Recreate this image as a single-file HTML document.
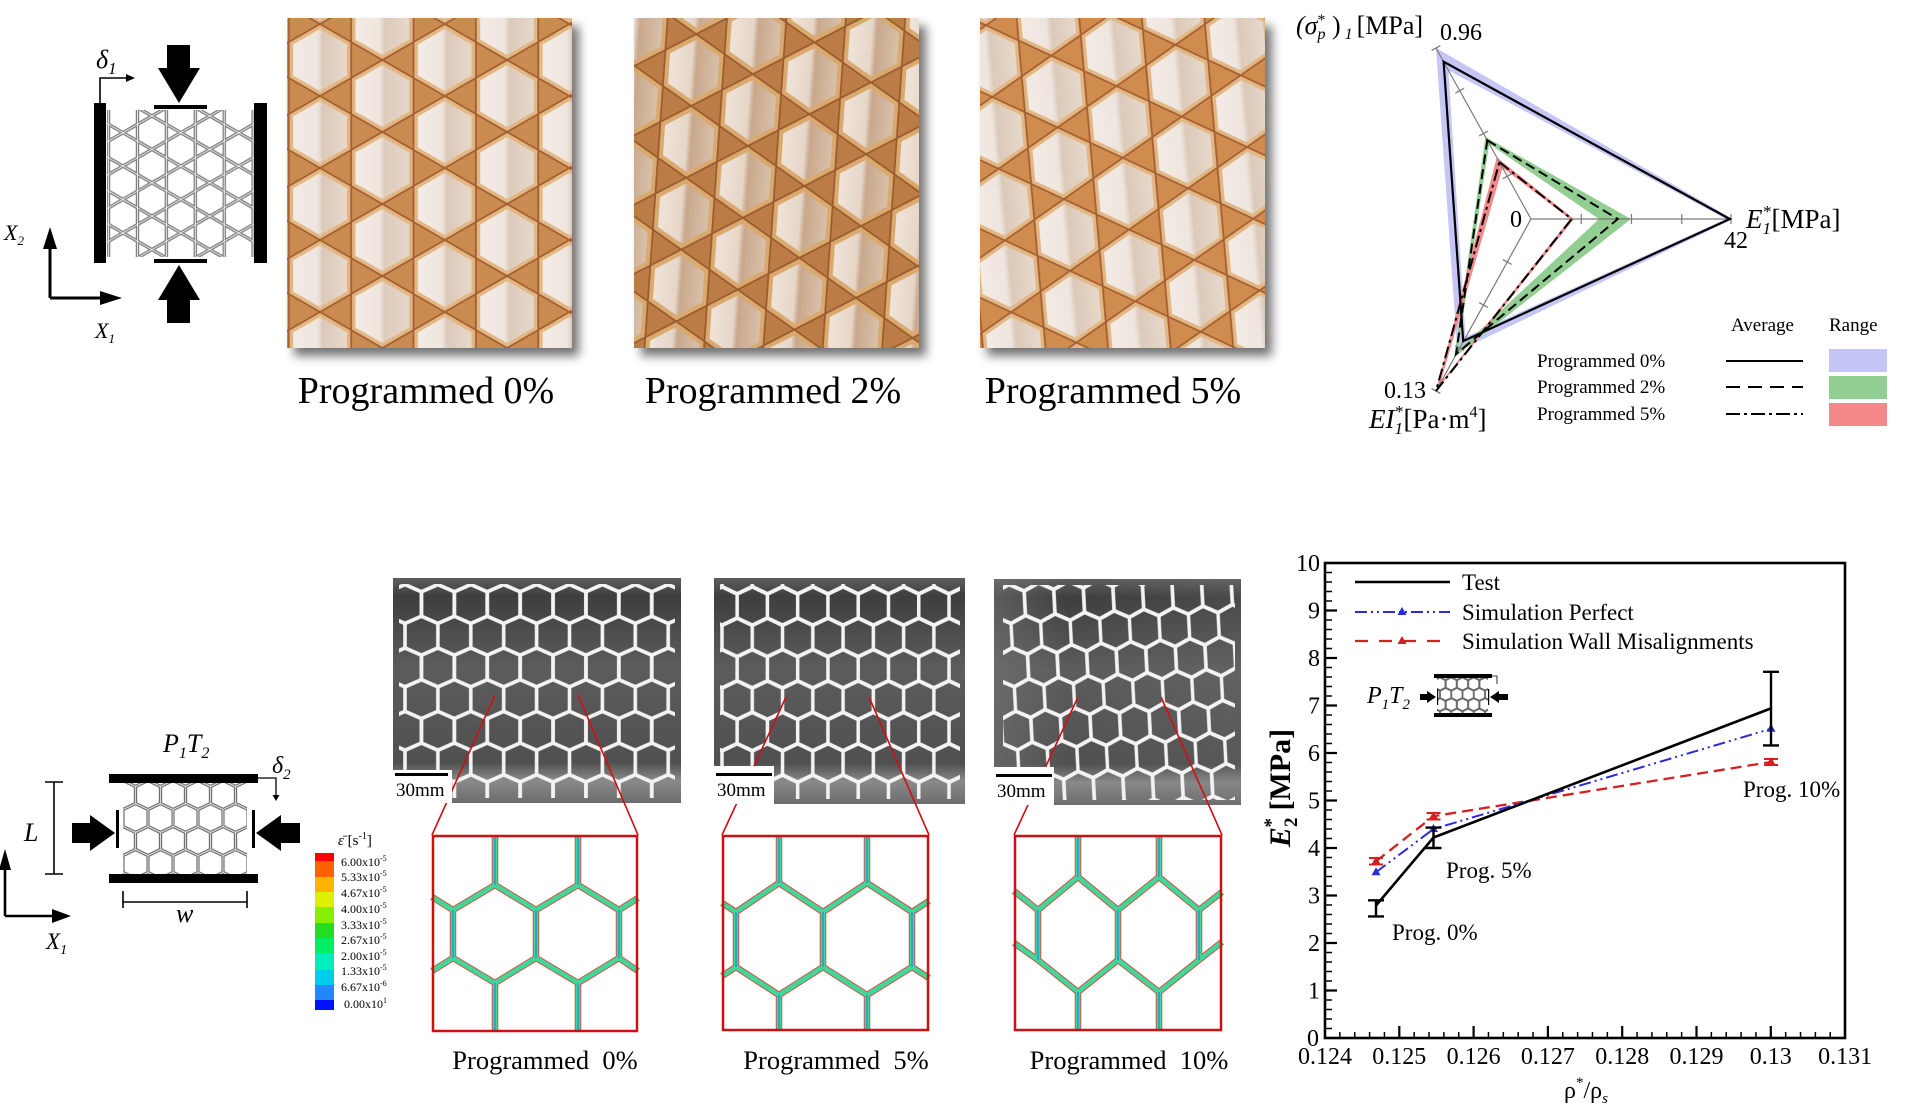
<!DOCTYPE html>
<html>
<head>
<meta charset="utf-8">
<style>
html,body{margin:0;padding:0;background:#fff;}
svg{display:block;}
</style>
</head>
<body>
<svg width="1905" height="1119" viewBox="0 0 1905 1119" xmlns="http://www.w3.org/2000/svg" xmlns:xlink="http://www.w3.org/1999/xlink" font-family="'Liberation Serif', serif">
<defs>
  <linearGradient id="cellg" x1="0" y1="0" x2="1" y2="0">
    <stop offset="0" stop-color="#f3ebe5"/>
    <stop offset="0.45" stop-color="#eee5de"/>
    <stop offset="0.55" stop-color="#dccab9"/>
    <stop offset="1" stop-color="#e6d8cc"/>
  </linearGradient>
  <g id="hk">
    <polygon points="0,-36 31.18,-18 31.18,18 0,36 -31.18,18 -31.18,-18" fill="#e2b784" stroke="#a55f30" stroke-width="1.8"/>
    <polygon points="0,-31 26.85,-15.5 26.85,15.5 0,31 -26.85,15.5 -26.85,-15.5" fill="url(#cellg)"/>
  </g>
  <linearGradient id="cellg2" x1="0" y1="0" x2="1" y2="0">
    <stop offset="0" stop-color="#efe3d8"/>
    <stop offset="0.45" stop-color="#e6d6c8"/>
    <stop offset="0.55" stop-color="#c9a88c"/>
    <stop offset="1" stop-color="#d8c0aa"/>
  </linearGradient>
  <g id="hk2">
    <polygon points="0,-36 31.18,-18 31.18,18 0,36 -31.18,18 -31.18,-18" fill="#d9a96f" stroke="#9a5a2c" stroke-width="1.8"/>
    <polygon points="0,-30 26,-15 26,15 0,30 -26,15 -26,-15" fill="url(#cellg2)"/>
  </g>
  <pattern id="kag1" patternUnits="userSpaceOnUse" width="124.71" height="72" x="320" y="60">
    <rect width="124.71" height="72" fill="#c98b50"/>
    <use xlink:href="#hk" x="0" y="0"/><use xlink:href="#hk" x="124.71" y="0"/>
    <use xlink:href="#hk" x="62.355" y="36"/><use xlink:href="#hk" x="0" y="72"/><use xlink:href="#hk" x="124.71" y="72"/>
  </pattern>
  <pattern id="kag2" patternUnits="userSpaceOnUse" width="124.71" height="72" x="660" y="40" patternTransform="rotate(4 776 180) scale(0.95 1)">
    <rect width="124.71" height="72" fill="#bb7c45"/>
    <use xlink:href="#hk2" x="0" y="0"/><use xlink:href="#hk2" x="124.71" y="0"/>
    <use xlink:href="#hk2" x="62.355" y="36"/><use xlink:href="#hk2" x="0" y="72"/><use xlink:href="#hk2" x="124.71" y="72"/>
  </pattern>
  <pattern id="kag3" patternUnits="userSpaceOnUse" width="124.71" height="72" x="1000" y="50" patternTransform="rotate(-5 1122 180)">
    <rect width="124.71" height="72" fill="#d08c4e"/>
    <use xlink:href="#hk" x="0" y="0"/><use xlink:href="#hk" x="124.71" y="0"/>
    <use xlink:href="#hk" x="62.355" y="36"/><use xlink:href="#hk" x="0" y="72"/><use xlink:href="#hk" x="124.71" y="72"/>
  </pattern>
  <filter id="blur" x="-20%" y="-20%" width="140%" height="140%"><feGaussianBlur stdDeviation="5"/></filter>

  <polygon id="hw" points="0,-19.5 16.45,-12.2 16.45,12.2 0,19.5 -16.45,12.2 -16.45,-12.2"/>
  <pattern id="hcA" patternUnits="userSpaceOnUse" width="32.9" height="63.4" x="405" y="604">
    <g fill="none" stroke="#f3f3f3" stroke-width="3.6">
      <use xlink:href="#hw" x="0" y="0"/><use xlink:href="#hw" x="32.9" y="0"/>
      <use xlink:href="#hw" x="16.45" y="31.7"/><use xlink:href="#hw" x="0" y="63.4"/><use xlink:href="#hw" x="32.9" y="63.4"/>
    </g>
  </pattern>
  <pattern id="hcB" patternUnits="userSpaceOnUse" width="32.9" height="63.4" x="0" y="0" patternTransform="translate(722 606) scale(0.92 0.99)">
    <g fill="none" stroke="#f3f3f3" stroke-width="3.8">
      <use xlink:href="#hw" x="0" y="0"/><use xlink:href="#hw" x="32.9" y="0"/>
      <use xlink:href="#hw" x="16.45" y="31.7"/><use xlink:href="#hw" x="0" y="63.4"/><use xlink:href="#hw" x="32.9" y="63.4"/>
    </g>
  </pattern>
  <pattern id="hcC" patternUnits="userSpaceOnUse" width="32.9" height="63.4" x="0" y="0" patternTransform="translate(1010 604) rotate(-3) scale(0.9 1)">
    <g fill="none" stroke="#f3f3f3" stroke-width="3.8">
      <use xlink:href="#hw" x="0" y="0"/><use xlink:href="#hw" x="32.9" y="0"/>
      <use xlink:href="#hw" x="16.45" y="31.7"/><use xlink:href="#hw" x="0" y="63.4"/><use xlink:href="#hw" x="32.9" y="63.4"/>
    </g>
  </pattern>
  <linearGradient id="grayg" x1="0" y1="0" x2="0" y2="1">
    <stop offset="0" stop-color="#5e5e5e"/>
    <stop offset="0.08" stop-color="#3e3e3e"/>
    <stop offset="0.4" stop-color="#5c5c5c"/>
    <stop offset="0.82" stop-color="#505050"/>
    <stop offset="0.9" stop-color="#8a8a8a"/>
    <stop offset="1" stop-color="#6c6c6c"/>
  </linearGradient>
  <linearGradient id="grayg3" x1="0" y1="0" x2="1" y2="0">
    <stop offset="0" stop-color="#7a7a7a" stop-opacity="0.5"/>
    <stop offset="0.3" stop-color="#7a7a7a" stop-opacity="0"/>
    <stop offset="1" stop-color="#7a7a7a" stop-opacity="0.2"/>
  </linearGradient>

  <polygon id="ksh" points="0,-16.7 14.46,-8.35 14.46,8.35 0,16.7 -14.46,8.35 -14.46,-8.35"/>
  <pattern id="ks" patternUnits="userSpaceOnUse" width="57.85" height="33.4" x="123" y="116">
    <g fill="none" stroke="#7c7c7c" stroke-width="3.4">
      <use xlink:href="#ksh" x="0" y="0"/><use xlink:href="#ksh" x="57.85" y="0"/><use xlink:href="#ksh" x="28.925" y="16.7"/>
      <use xlink:href="#ksh" x="0" y="33.4"/><use xlink:href="#ksh" x="57.85" y="33.4"/>
    </g>
    <g fill="none" stroke="#e8e8e8" stroke-width="1">
      <use xlink:href="#ksh" x="0" y="0"/><use xlink:href="#ksh" x="57.85" y="0"/><use xlink:href="#ksh" x="28.925" y="16.7"/>
      <use xlink:href="#ksh" x="0" y="33.4"/><use xlink:href="#ksh" x="57.85" y="33.4"/>
    </g>
  </pattern>

  <polygon id="hsh" points="0,-14.5 12.5,-8.5 12.5,8.5 0,14.5 -12.5,8.5 -12.5,-8.5"/>
  <pattern id="hs" patternUnits="userSpaceOnUse" width="25" height="46" x="123" y="795">
    <g fill="none" stroke="#707070" stroke-width="3.2">
      <use xlink:href="#hsh" x="0" y="0"/><use xlink:href="#hsh" x="25" y="0"/><use xlink:href="#hsh" x="12.5" y="23"/>
      <use xlink:href="#hsh" x="0" y="46"/><use xlink:href="#hsh" x="25" y="46"/>
    </g>
    <g fill="none" stroke="#d8d8d8" stroke-width="1">
      <use xlink:href="#hsh" x="0" y="0"/><use xlink:href="#hsh" x="25" y="0"/><use xlink:href="#hsh" x="12.5" y="23"/>
      <use xlink:href="#hsh" x="0" y="46"/><use xlink:href="#hsh" x="25" y="46"/>
    </g>
  </pattern>
  <pattern id="hsm" patternUnits="userSpaceOnUse" width="25" height="46" x="0" y="0" patternTransform="translate(1440 684) scale(0.45)">
    <g fill="none" stroke="#666" stroke-width="4">
      <use xlink:href="#hsh" x="0" y="0"/><use xlink:href="#hsh" x="25" y="0"/><use xlink:href="#hsh" x="12.5" y="23"/>
      <use xlink:href="#hsh" x="0" y="46"/><use xlink:href="#hsh" x="25" y="46"/>
    </g>
  </pattern>
</defs>

<!-- ============ TOP-LEFT SCHEMATIC ============ -->
<rect x="107" y="110" width="147" height="147" fill="url(#ks)"/>
<rect x="94" y="103" width="12" height="160" fill="#000"/>
<rect x="254" y="103" width="13" height="160" fill="#000"/>
<rect x="154" y="105" width="53" height="4" fill="#000"/>
<rect x="154" y="259" width="53" height="4" fill="#000"/>
<rect x="167" y="45" width="23" height="24" fill="#000"/>
<polygon points="158,68 200,68 179,103" fill="#000"/>
<polygon points="179,265 158,300 200,300" fill="#000"/>
<rect x="167" y="299" width="23" height="24" fill="#000"/>
<path d="M100 103 V78 H128" fill="none" stroke="#000" stroke-width="1.6"/>
<polygon points="135,78 126,74 126,82" fill="#000"/>
<text x="96" y="68" font-size="26" font-style="italic">δ<tspan font-size="17" dy="6">1</tspan></text>
<path d="M50 298 V240 M50 298 H108" fill="none" stroke="#000" stroke-width="3"/>
<polygon points="50,227 43,249 57,249" fill="#000"/>
<polygon points="122,298 100,291 100,305" fill="#000"/>
<text x="4" y="240" font-size="22" font-style="italic">X<tspan font-size="13" dy="5">2</tspan></text>
<text x="95" y="338" font-size="22" font-style="italic">X<tspan font-size="13" dy="5">1</tspan></text>

<!-- ============ TOP PHOTOS ============ -->
<rect x="294" y="26" width="285" height="330" fill="#444" opacity="0.75" filter="url(#blur)"/>
<rect x="287" y="18" width="285" height="330" fill="url(#kag1)"/>
<rect x="641" y="26" width="285" height="330" fill="#444" opacity="0.75" filter="url(#blur)"/>
<rect x="634" y="18" width="285" height="330" fill="url(#kag2)"/>
<rect x="987" y="26" width="285" height="330" fill="#444" opacity="0.75" filter="url(#blur)"/>
<rect x="980" y="18" width="285" height="330" fill="url(#kag3)"/>
<text x="426" y="403" font-size="38" text-anchor="middle">Programmed 0%</text>
<text x="773" y="403" font-size="38" text-anchor="middle">Programmed 2%</text>
<text x="1113" y="403" font-size="38" text-anchor="middle">Programmed 5%</text>

<!-- ============ RADAR CHART ============ -->
<path fill="#c6c6f6" fill-rule="evenodd" d="M1436 48 L1733 219 L1457.4 351.5 Z M1448.4 70.2 L1726 219 L1465.5 337 Z"/>
<path fill="#92cd92" fill-rule="evenodd" d="M1485.4 136.9 L1631 219 L1454.1 357.5 Z M1489.2 143.8 L1599 219 L1457.9 350.7 Z"/>
<path fill="#f38789" fill-rule="evenodd" d="M1496.8 157.4 L1574 219 L1436 391 Z M1502.5 167.7 L1570 219 L1440.3 383.2 Z"/>
<g stroke="#7a7a7a" stroke-width="1.2" fill="none">
  <path d="M1531 219 H1731 M1531 219 L1436 48 M1531 219 L1436 391"/>
  <path d="M1581.25 214 v10 M1631.5 214 v10 M1681.75 214 v10 M1731 214 v10"/>
  <path d="M1502.88 178.68 l8.74 -4.86 M1479.13 135.93 l8.74 -4.86 M1455.38 93.18 l8.74 -4.86 M1431.63 50.43 l8.74 -4.86"/>
  <path d="M1502.88 259.57 l8.74 4.86 M1479.13 302.57 l8.74 4.86 M1455.38 345.57 l8.74 4.86 M1431.63 388.57 l8.74 4.86"/>
</g>
<polygon points="1443.6,61.7 1729.8,219 1463.2,341.1" fill="none" stroke="#000" stroke-width="2.2"/>
<polygon points="1487.3,140.3 1617.8,219 1456,354.1" fill="none" stroke="#000" stroke-width="2" stroke-dasharray="10,5"/>
<polygon points="1499.4,162.1 1571.6,219 1436,391" fill="none" stroke="#000" stroke-width="2" stroke-dasharray="12,4,3,4"/>
<text x="1296" y="34" font-size="26"><tspan font-style="italic">(σ</tspan><tspan font-size="16" font-style="italic" dy="5">p</tspan><tspan font-size="16" dx="-8" dy="-14">*</tspan><tspan dy="9"> )</tspan><tspan font-size="16" font-style="italic" dy="5"> 1 </tspan><tspan dy="-5">[MPa]</tspan></text>
<text x="1440" y="40" font-size="24">0.96</text>
<text x="1510" y="227" font-size="24">0</text>
<text x="1746" y="228" font-size="27"><tspan font-style="italic">E</tspan><tspan font-size="17" font-style="italic" dy="6">1</tspan><tspan font-size="17" dx="-8" dy="-17">*</tspan><tspan dy="11">[MPa]</tspan></text>
<text x="1724" y="248" font-size="24">42</text>
<text x="1384" y="398" font-size="24">0.13</text>
<text x="1369" y="428" font-size="27"><tspan font-style="italic">EI</tspan><tspan font-size="17" font-style="italic" dy="6">1</tspan><tspan font-size="17" dx="-8" dy="-17">*</tspan><tspan dy="11">[Pa·m</tspan><tspan font-size="16" dy="-11">4</tspan><tspan dy="11">]</tspan></text>
<text x="1731" y="331" font-size="19">Average</text>
<text x="1829" y="331" font-size="19">Range</text>
<text x="1537" y="367" font-size="19">Programmed 0%</text>
<text x="1537" y="393" font-size="19">Programmed 2%</text>
<text x="1537" y="420" font-size="19">Programmed 5%</text>
<path d="M1726 361 H1803" stroke="#000" stroke-width="2"/>
<path d="M1726 387 H1803" stroke="#000" stroke-width="2" stroke-dasharray="14,8"/>
<path d="M1726 414 H1803" stroke="#000" stroke-width="2" stroke-dasharray="14,4,3,4"/>
<rect x="1829" y="349" width="58" height="23" fill="#c6c6f6"/>
<rect x="1829" y="376" width="58" height="23" fill="#92cd92"/>
<rect x="1829" y="403" width="58" height="23" fill="#f38789"/>

<!-- ============ BOTTOM-LEFT SCHEMATIC ============ -->
<text x="163" y="752" font-size="26" font-style="italic">P<tspan font-size="16" dy="6">1</tspan><tspan dy="-6">T</tspan><tspan font-size="16" dy="6">2</tspan></text>
<rect x="123" y="783" width="124" height="91" fill="url(#hs)"/>
<rect x="109" y="774" width="149" height="9" fill="#000"/>
<rect x="109" y="874" width="149" height="9" fill="#000"/>
<rect x="116" y="810" width="3" height="38" fill="#000"/>
<rect x="252" y="810" width="3" height="38" fill="#000"/>
<rect x="72" y="823" width="19" height="20" fill="#000"/>
<polygon points="90,815 115,833 90,851" fill="#000"/>
<polygon points="256,833 281,815 281,851" fill="#000"/>
<rect x="280" y="823" width="20" height="20" fill="#000"/>
<path d="M258 778 H276 V797" fill="none" stroke="#000" stroke-width="1.3"/>
<polygon points="272.5,795 279.5,795 276,801" fill="#000"/>
<text x="272" y="773" font-size="24" font-style="italic">δ<tspan font-size="15" dy="6">2</tspan></text>
<path d="M54 782 V874 M45 782 H63 M45 874 H63" fill="none" stroke="#000" stroke-width="1.6"/>
<text x="24" y="841" font-size="26" font-style="italic">L</text>
<path d="M123 902 H247 M123 891 V908 M247 891 V908" fill="none" stroke="#000" stroke-width="1.6"/>
<text x="176" y="922" font-size="26" font-style="italic">w</text>
<path d="M5 916 V866 M5 916 H56" fill="none" stroke="#000" stroke-width="2.6"/>
<polygon points="5,849 -1,870 11,870" fill="#000"/>
<polygon points="71,916 52,909 52,923" fill="#000"/>
<text x="46" y="949" font-size="23" font-style="italic">X<tspan font-size="14" dy="5">1</tspan></text>

<!-- ============ COLORBAR ============ -->
<text x="338" y="845" font-size="15"><tspan font-style="italic">ε̄</tspan> [s<tspan font-size="10" dy="-6">-1</tspan><tspan dy="6">]</tspan></text>
<rect x="315" y="853" width="19" height="9" fill="#ff0000"/>
<rect x="315" y="861" width="19" height="16" fill="#ff6000"/>
<rect x="315" y="877" width="19" height="15" fill="#ffb400"/>
<rect x="315" y="892" width="19" height="15" fill="#ddf000"/>
<rect x="315" y="907" width="19" height="16" fill="#88ee00"/>
<rect x="315" y="923" width="19" height="15" fill="#22dd22"/>
<rect x="315" y="938" width="19" height="15" fill="#00ee66"/>
<rect x="315" y="953" width="19" height="17" fill="#00eebb"/>
<rect x="315" y="970" width="19" height="15" fill="#00ccee"/>
<rect x="315" y="985" width="19" height="15" fill="#2288ff"/>
<rect x="315" y="1000" width="19" height="10" fill="#0011ff"/>
<g font-size="12">
<text x="341" y="866">6.00x10<tspan font-size="8" dy="-5">-5</tspan></text>
<text x="341" y="881">5.33x10<tspan font-size="8" dy="-5">-5</tspan></text>
<text x="341" y="897">4.67x10<tspan font-size="8" dy="-5">-5</tspan></text>
<text x="341" y="913">4.00x10<tspan font-size="8" dy="-5">-5</tspan></text>
<text x="341" y="929">3.33x10<tspan font-size="8" dy="-5">-5</tspan></text>
<text x="341" y="944">2.67x10<tspan font-size="8" dy="-5">-5</tspan></text>
<text x="341" y="960">2.00x10<tspan font-size="8" dy="-5">-5</tspan></text>
<text x="341" y="975">1.33x10<tspan font-size="8" dy="-5">-5</tspan></text>
<text x="341" y="991">6.67x10<tspan font-size="8" dy="-5">-6</tspan></text>
<text x="344" y="1008">0.00x10<tspan font-size="8" dy="-5">1</tspan></text>
</g>

<!-- ============ GRAY PHOTOS ============ -->
<rect x="393" y="578" width="288" height="225" fill="url(#grayg)"/>
<rect x="399" y="584" width="276" height="214" fill="url(#hcA)"/>
<rect x="714" y="578" width="251" height="226" fill="url(#grayg)"/>
<rect x="720" y="584" width="240" height="215" fill="url(#hcB)"/>
<rect x="994" y="579" width="247" height="226" fill="url(#grayg)"/>
<rect x="994" y="579" width="247" height="226" fill="url(#grayg3)"/>
<rect x="1003" y="585" width="232" height="215" fill="url(#hcC)"/>

<!-- red connecting lines -->
<g stroke="#d01010" stroke-width="1.6">
  <path d="M432 835 L495 695 M638 835 L578 695"/>
  <path d="M722 835 L786 697 M929 835 L869 697"/>
  <path d="M1014 835 L1078 697 M1222 835 L1161 697"/>
</g>

<!-- 30mm boxes -->
<rect x="393" y="770" width="59" height="33" fill="#fff"/>
<rect x="395" y="773" width="53" height="3" fill="#000"/>
<text x="396" y="796" font-size="19">30mm</text>
<rect x="714" y="766" width="60" height="38" fill="#fff"/>
<rect x="716" y="773" width="56" height="3" fill="#000"/>
<text x="717" y="796" font-size="19">30mm</text>
<rect x="994" y="767" width="60" height="38" fill="#fff"/>
<rect x="996" y="774" width="56" height="3" fill="#000"/>
<text x="997" y="797" font-size="19">30mm</text>

<!-- ============ FE BOXES ============ -->
<g transform="translate(432 835)">
  <rect x="0" y="0" width="206" height="197" fill="#fff"/>
  <g fill="none" stroke-linejoin="round">
    <g stroke="#d42a1a" stroke-width="6.5" opacity="0.85">
      <path d="M63 0V50 M146 0V50 M0 62L21 75L63 50L104 75L146 50L187 75L206 63 M21 75V123 M104 75V123 M187 75V123 M0 136L21 123L63 148L104 123L146 148L187 123L206 136 M63 148V197 M146 148V197"/>
    </g>
    <g stroke="#3fd89a" stroke-width="4.6">
      <path d="M63 0V50 M146 0V50 M0 62L21 75L63 50L104 75L146 50L187 75L206 63 M21 75V123 M104 75V123 M187 75V123 M0 136L21 123L63 148L104 123L146 148L187 123L206 136 M63 148V197 M146 148V197"/>
    </g>
    <g stroke="#1f8ce8" stroke-width="1.6" opacity="0.8">
      <path d="M63 0V50 M146 0V50 M21 75V123 M104 75V123 M187 75V123 M63 148V197 M146 148V197"/>
    </g>
  </g>
  <rect x="1" y="1" width="204" height="195" fill="none" stroke="#cc1111" stroke-width="2.5"/>
</g>
<g transform="translate(722 835)">
  <rect x="0" y="0" width="207" height="196" fill="#fff"/>
  <g fill="none" stroke-linejoin="round">
    <g stroke="#d42a1a" stroke-width="6.5" opacity="0.85">
      <path d="M57 0V48 M145 0V48 M0 68L14 77L57 48L101 77L145 48L190 77L207 66 M14 77V132 M101 77V132 M190 77V132 M0 141L14 132L57 160L101 132L145 160L190 132L207 143 M57 160V196 M145 160V196"/>
    </g>
    <g stroke="#3fd89a" stroke-width="4.6">
      <path d="M57 0V48 M145 0V48 M0 68L14 77L57 48L101 77L145 48L190 77L207 66 M14 77V132 M101 77V132 M190 77V132 M0 141L14 132L57 160L101 132L145 160L190 132L207 143 M57 160V196 M145 160V196"/>
    </g>
    <g stroke="#1f8ce8" stroke-width="1.6" opacity="0.8">
      <path d="M57 0V48 M145 0V48 M14 77V132 M101 77V132 M190 77V132 M57 160V196 M145 160V196"/>
    </g>
  </g>
  <rect x="1" y="1" width="205" height="194" fill="none" stroke="#cc1111" stroke-width="2.5"/>
</g>
<g transform="translate(1014 835)">
  <rect x="0" y="0" width="208" height="196" fill="#fff"/>
  <g fill="none" stroke-linejoin="round">
    <g stroke="#d42a1a" stroke-width="6.5" opacity="0.85">
      <path d="M64 0V42 M145 0V42 M0 56L24 75L64 42L104 75L145 42L185 75L208 57 M24 75V125 M104 75V125 M185 75V125 M0 108L24 125L64 157L104 125L145 157L185 125L208 107 M64 157V196 M145 157V196"/>
    </g>
    <g stroke="#3fd89a" stroke-width="4.6">
      <path d="M64 0V42 M145 0V42 M0 56L24 75L64 42L104 75L145 42L185 75L208 57 M24 75V125 M104 75V125 M185 75V125 M0 108L24 125L64 157L104 125L145 157L185 125L208 107 M64 157V196 M145 157V196"/>
    </g>
    <g stroke="#1f8ce8" stroke-width="1.6" opacity="0.8">
      <path d="M64 0V42 M145 0V42 M24 75V125 M104 75V125 M185 75V125 M64 157V196 M145 157V196"/>
    </g>
  </g>
  <rect x="1" y="1" width="206" height="194" fill="none" stroke="#cc1111" stroke-width="2.5"/>
</g>
<text x="545" y="1069" font-size="26.5" text-anchor="middle" xml:space="preserve">Programmed  0%</text>
<text x="836" y="1069" font-size="26.5" text-anchor="middle" xml:space="preserve">Programmed  5%</text>
<text x="1129" y="1069" font-size="26.5" text-anchor="middle" xml:space="preserve">Programmed  10%</text>

<!-- ============ LINE CHART ============ -->
<g stroke="#000" stroke-width="1.5" fill="none">
  <path d="M1339.86 1038v-6M1354.72 1038v-6M1369.58 1038v-6M1384.44 1038v-6M1414.16 1038v-6M1429.02 1038v-6M1443.88 1038v-6M1458.74 1038v-6M1488.46 1038v-6M1503.32 1038v-6M1518.18 1038v-6M1533.04 1038v-6M1562.76 1038v-6M1577.62 1038v-6M1592.48 1038v-6M1607.34 1038v-6M1637.06 1038v-6M1651.92 1038v-6M1666.78 1038v-6M1681.64 1038v-6M1711.36 1038v-6M1726.22 1038v-6M1741.08 1038v-6M1755.94 1038v-6M1785.66 1038v-6M1800.52 1038v-6M1815.38 1038v-6M1830.24 1038v-6"/>
  <path stroke-width="2.2" d="M1399.3 1038v-12M1473.6 1038v-12M1547.9 1038v-12M1622.2 1038v-12M1696.5 1038v-12M1770.8 1038v-12"/>
  <path d="M1325 1028.5h7M1325 1019h7M1325 1009.5h7M1325 1000h7M1325 981h7M1325 971.5h7M1325 962h7M1325 952.5h7M1325 933.5h7M1325 924h7M1325 914.5h7M1325 905h7M1325 886h7M1325 876.5h7M1325 867h7M1325 857.5h7M1325 838.5h7M1325 829h7M1325 819.5h7M1325 810h7M1325 791h7M1325 781.5h7M1325 772h7M1325 762.5h7M1325 743.5h7M1325 734h7M1325 724.5h7M1325 715h7M1325 696h7M1325 686.5h7M1325 677h7M1325 667.5h7M1325 648.5h7M1325 639h7M1325 629.5h7M1325 620h7M1325 601h7M1325 591.5h7M1325 582h7M1325 572.5h7"/>
  <path stroke-width="2.2" d="M1325 990.5h12M1325 943h12M1325 895.5h12M1325 848h12M1325 800.5h12M1325 753h12M1325 705.5h12M1325 658h12M1325 610.5h12"/>
</g>
<rect x="1325" y="563" width="520" height="475" fill="none" stroke="#000" stroke-width="2.6"/>
<g font-size="24" text-anchor="end">
  <text x="1320" y="571">10</text><text x="1320" y="618.5">9</text><text x="1320" y="666">8</text>
  <text x="1320" y="713.5">7</text><text x="1320" y="761">6</text><text x="1320" y="808.5">5</text>
  <text x="1320" y="856">4</text><text x="1320" y="903.5">3</text><text x="1320" y="951">2</text>
  <text x="1320" y="998.5">1</text><text x="1319" y="1046">0</text>
</g>
<g font-size="24" text-anchor="middle">
  <text x="1325" y="1064">0.124</text><text x="1399.3" y="1064">0.125</text><text x="1473.6" y="1064">0.126</text>
  <text x="1547.9" y="1064">0.127</text><text x="1622.2" y="1064">0.128</text><text x="1696.5" y="1064">0.129</text>
  <text x="1770.8" y="1064">0.13</text><text x="1845.1" y="1064">0.131</text>
</g>
<text x="1564" y="1098" font-size="24">ρ<tspan font-size="15" dy="-11">*</tspan><tspan dy="11">/ρ</tspan><tspan font-size="15" font-style="italic" dy="5">s</tspan></text>
<text transform="translate(1290 788) rotate(-90)" text-anchor="middle" font-size="30" font-weight="bold"><tspan font-style="italic">E</tspan><tspan font-size="19" dy="7">2</tspan><tspan font-size="19" dx="-10" dy="-20">*</tspan><tspan dy="13"> [MPa]</tspan></text>

<!-- legend -->
<path d="M1355 582 H1450" stroke="#000" stroke-width="2.5"/>
<path d="M1355 612 H1450" stroke="#2b2bdd" stroke-width="2" stroke-dasharray="12,4,2,4,2,4"/>
<path d="M1402 607 l4.5 8 h-9 z" fill="#2b2bdd"/>
<path d="M1355 641 H1450" stroke="#d42020" stroke-width="2.2" stroke-dasharray="13,11"/>
<path d="M1402 636 l4.5 8 h-9 z" fill="#d42020"/>
<text x="1462" y="590" font-size="23">Test</text>
<text x="1462" y="620" font-size="23">Simulation Perfect</text>
<text x="1462" y="649" font-size="23">Simulation Wall Misalignments</text>

<!-- inset icon -->
<text x="1367" y="703" font-size="24" font-style="italic">P<tspan font-size="15" dy="6">1</tspan><tspan dy="-6">T</tspan><tspan font-size="15" dy="6">2</tspan></text>
<rect x="1437" y="678" width="51" height="35" fill="url(#hsm)"/>
<rect x="1434" y="674" width="58" height="4" fill="#000"/>
<rect x="1434" y="713" width="58" height="4" fill="#000"/>
<rect x="1420" y="694" width="8" height="6" fill="#000"/>
<polygon points="1427,691 1436,697 1427,703" fill="#000"/>
<rect x="1437" y="689" width="1.2" height="16" fill="#000"/>
<rect x="1488" y="689" width="1.2" height="16" fill="#000"/>
<polygon points="1490,697 1499,691 1499,703" fill="#000"/>
<rect x="1499" y="694" width="9" height="6" fill="#000"/>
<path d="M1492 676 H1497 V684" fill="none" stroke="#000" stroke-width="0.8"/>

<!-- series: red dashed -->
<polyline points="1376,861.3 1433.5,816.2 1771,762" fill="none" stroke="#d42020" stroke-width="2.3" stroke-dasharray="11,6"/>
<g stroke="#d42020" stroke-width="2">
  <path d="M1369 858h14M1369 864.5h14M1426.5 813h14M1426.5 819.5h14M1764 759h14M1764 765h14"/>
</g>
<g fill="#d42020">
  <path d="M1376 856.3 l4.5 8 h-9 z"/><path d="M1433.5 811.2 l4.5 8 h-9 z"/><path d="M1771 757 l4.5 8 h-9 z"/>
</g>
<!-- series: blue dash-dot -->
<polyline points="1376,872.2 1433.5,829 1771,728.8" fill="none" stroke="#2b2bdd" stroke-width="2" stroke-dasharray="12,4,2,4,2,4"/>
<g fill="#2b2bdd">
  <path d="M1376 867.2 l4.5 8 h-9 z"/><path d="M1433.5 824 l4.5 8 h-9 z"/><path d="M1771 723.8 l4.5 8 h-9 z"/>
</g>
<!-- series: test -->
<polyline points="1376,905.5 1433.5,837.5 1771,708.4" fill="none" stroke="#000" stroke-width="2.6"/>
<g stroke="#000" stroke-width="2.4" fill="none">
  <path d="M1376 900.3V916.4 M1368 900.3h16 M1368 916.4h16"/>
  <path d="M1433.5 827.6V848 M1425.5 827.6h16 M1425.5 848h16"/>
  <path d="M1771 671.8V745.4 M1763 671.8h16 M1763 745.4h16"/>
</g>
<text x="1392" y="940" font-size="23">Prog. 0%</text>
<text x="1446" y="878" font-size="23">Prog. 5%</text>
<text x="1743" y="797" font-size="23">Prog. 10%</text>
</svg>
</body>
</html>
